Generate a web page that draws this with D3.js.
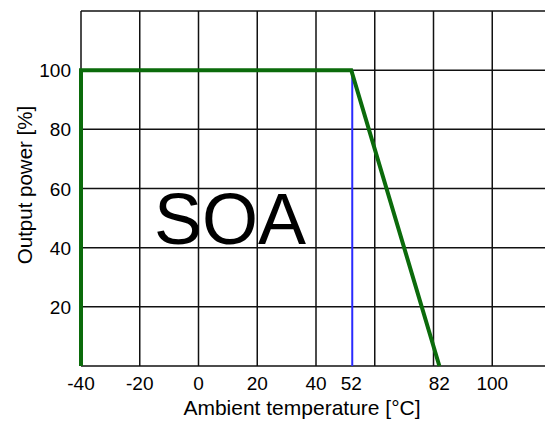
<!DOCTYPE html>
<html>
<head>
<meta charset="utf-8">
<script src="https://d3js.org/d3.v7.min.js"></script>
<style>
body { margin: 0; background: #fff; }
text { font-family: "Liberation Sans", Arial, sans-serif; fill: #000; }
</style>
</head>
<body>
<script>
// chart values
var xTicks = [-40, -20, 0, 20, 40, 60, 80, 100, 120];
var xLabels = [-40, -20, 0, 20, 40, 52, 82, 100];
var yTicks = [0, 20, 40, 60, 80, 100, 120];
var yLabels = [20, 40, 60, 80, 100];
var derating = [[-40, 0], [-40, 100], [52, 100], [82, 0]];
var markerTemp = 52;

var width = 545, height = 423;
var x = d3.scaleLinear().domain([-40, 120]).range([81, 551]);
var y = d3.scaleLinear().domain([0, 120]).range([366, 11]);

var svg = d3.select("body").append("svg")
  .attr("width", width).attr("height", height);

// grid
svg.append("g").selectAll("line").data(xTicks).enter().append("line")
  .attr("x1", d => x(d)).attr("x2", d => x(d))
  .attr("y1", y(0)).attr("y2", y(120))
  .attr("stroke", "#111").attr("stroke-width", 1.5);
svg.append("g").selectAll("line").data(yTicks).enter().append("line")
  .attr("x1", x(-40)).attr("x2", x(120))
  .attr("y1", d => y(d)).attr("y2", d => y(d))
  .attr("stroke", "#111").attr("stroke-width", 1.5);

// tick labels
svg.append("g").selectAll("text").data(xLabels).enter().append("text")
  .attr("x", d => x(d)).attr("y", 390)
  .attr("text-anchor", "middle").attr("font-size", 19)
  .text(d => d);
svg.append("g").selectAll("text").data(yLabels).enter().append("text")
  .attr("x", 71).attr("y", d => y(d) + 7)
  .attr("text-anchor", "end").attr("font-size", 19)
  .text(d => d);

// axis titles
svg.append("text").attr("x", 302).attr("y", 415)
  .attr("text-anchor", "middle").attr("font-size", 21)
  .text("Ambient temperature [°C]");
svg.append("text")
  .attr("transform", "translate(32,185) rotate(-90)")
  .attr("text-anchor", "middle").attr("font-size", 20.5)
  .text("Output power [%]");

// blue marker at 52
svg.append("line")
  .attr("x1", x(markerTemp) + 1).attr("x2", x(markerTemp) + 1)
  .attr("y1", y(100)).attr("y2", y(0))
  .attr("stroke", "#2a2aff").attr("stroke-width", 2);

// derating curve
svg.append("path").datum(derating)
  .attr("d", d3.line().x(d => x(d[0])).y(d => y(d[1])))
  .attr("fill", "none").attr("stroke", "#0b6b0b").attr("stroke-width", 4);

svg.append("text").attr("x", 154).attr("y", 244)
  .attr("font-size", 72).text("SOA");
</script>
</body>
</html>
